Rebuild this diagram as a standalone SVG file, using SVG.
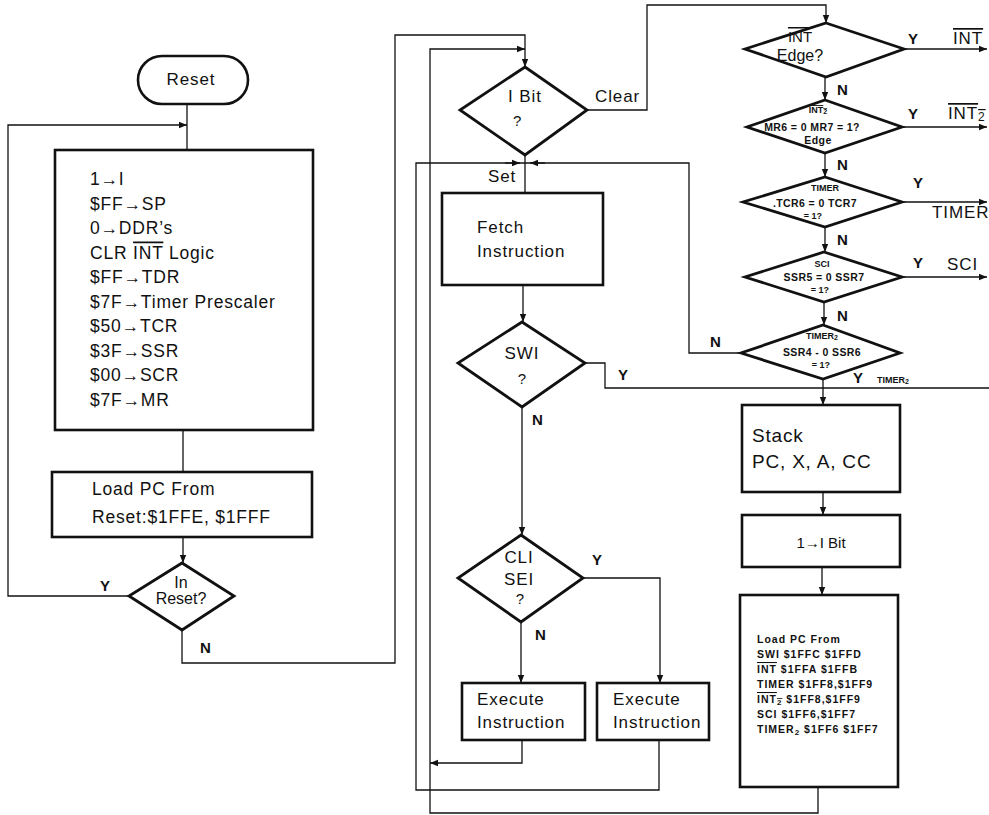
<svg xmlns="http://www.w3.org/2000/svg" width="989" height="815" viewBox="0 0 989 815">
<defs>
<style>
text{font-family:"Liberation Sans",Arial,Helvetica,sans-serif;fill:#111}
.box{fill:#fff;stroke:#111;stroke-width:2.6}
.dia{fill:#fff;stroke:#111;stroke-width:2.8;stroke-linejoin:miter}
.c{fill:none;stroke:#111;stroke-width:1.3}
.t{font-size:17.5px;letter-spacing:0.8px}
.m{font-size:17px;letter-spacing:0.9px}
.yn{font-size:15px;font-weight:bold}
.s{font-size:10.5px;font-weight:bold;letter-spacing:1px}
.d{font-size:10.5px;font-weight:bold;letter-spacing:0.4px;text-anchor:middle}
.xs{font-size:9px;font-weight:bold}
.ol{text-decoration:overline}
.mid{text-anchor:middle}
</style>
<marker id="a" viewBox="0 0 10 10" refX="10" refY="5" markerWidth="8" markerHeight="8" markerUnits="userSpaceOnUse" orient="auto"><path d="M0,1L10,5L0,9z" fill="#111"/></marker>
</defs>
<rect width="989" height="815" fill="#fff"/>

<g id="connectors">
<path class="c" d="M187,104V150"/>
<path class="c" d="M129,596H8V125H187" marker-end="url(#a)"/>
<path class="c" d="M183,430V472"/>
<path class="c" d="M183,537V563" marker-end="url(#a)"/>
<path class="c" d="M182,630V663H395V35H525V67" marker-end="url(#a)"/>
<path class="c" d="M818,787V813H430V49H525" marker-end="url(#a)"/>
<path class="c" d="M522,740V763H430" marker-end="url(#a)"/>
<path class="c" d="M659,740V790H416V163H689V353H741"/>
<path class="c" d="M505,163H520" marker-end="url(#a)"/>
<path class="c" d="M545,163H530" marker-end="url(#a)"/>
<path class="c" d="M525,155V193"/>
<path class="c" d="M587,110H647V5H826V23" marker-end="url(#a)"/>
<path class="c" d="M523,285V322" marker-end="url(#a)"/>
<path class="c" d="M585,363H605V388H989"/>
<path class="c" d="M823,379V405" marker-end="url(#a)"/>
<path class="c" d="M522,407V535" marker-end="url(#a)"/>
<path class="c" d="M521,622V683" marker-end="url(#a)"/>
<path class="c" d="M583,578H660V683" marker-end="url(#a)"/>
<path class="c" d="M904,49H987" marker-end="url(#a)"/>
<path class="c" d="M825,77V100" marker-end="url(#a)"/>
<path class="c" d="M902,127H987" marker-end="url(#a)"/>
<path class="c" d="M825,153V177" marker-end="url(#a)"/>
<path class="c" d="M902,202H987" marker-end="url(#a)"/>
<path class="c" d="M825,227V252" marker-end="url(#a)"/>
<path class="c" d="M902,277H987" marker-end="url(#a)"/>
<path class="c" d="M824,302V325" marker-end="url(#a)"/>
<path class="c" d="M823,492V515" marker-end="url(#a)"/>
<path class="c" d="M822,567V595" marker-end="url(#a)"/>
<text class="yn" x="100" y="591">Y</text>
<text class="yn" x="200" y="653">N</text>
<text class="m" x="595" y="102">Clear</text>
<text class="m" x="488" y="182">Set</text>
<text class="yn" x="618" y="380">Y</text>
<text class="yn" x="532" y="425">N</text>
<text class="yn" x="592" y="565">Y</text>
<text class="yn" x="535" y="640">N</text>
<text class="yn" x="908" y="44">Y</text>
<text class="m ol" x="953" y="44">INT</text>
<text class="yn" x="837" y="95">N</text>
<text class="yn" x="908" y="119">Y</text>
<text class="m ol" x="948" y="119">INT<tspan font-size="12" dy="2">2</tspan></text>
<text class="yn" x="837" y="170">N</text>
<text class="yn" x="913" y="188">Y</text>
<text class="m" x="932" y="218">TIMER</text>
<text class="yn" x="837" y="245">N</text>
<text class="yn" x="913" y="268">Y</text>
<text class="m" x="947" y="270">SCI</text>
<text class="yn" x="837" y="321">N</text>
<text class="yn" x="710" y="347">N</text>
<text class="yn" x="853" y="383">Y</text>
<text class="xs" x="877" y="383">TIMER<tspan font-size="7" dy="1">2</tspan></text>
</g>

<g id="reset">
<rect class="box" x="138" y="56" width="110" height="48" rx="24"/>
<text class="m mid" x="191" y="85">Reset</text>
</g>

<g id="init">
<rect class="box" x="55" y="150" width="258" height="280"/>
<text class="t" x="90" y="185">1→I</text>
<text class="t" x="90" y="209.5">$FF→SP</text>
<text class="t" x="90" y="234">0→DDR’s</text>
<text class="t" x="90" y="258.5">CLR <tspan class="ol">INT</tspan> Logic</text>
<text class="t" x="90" y="283">$FF→TDR</text>
<text class="t" x="90" y="307.5">$7F→Timer Prescaler</text>
<text class="t" x="90" y="332">$50→TCR</text>
<text class="t" x="90" y="356.5">$3F→SSR</text>
<text class="t" x="90" y="381">$00→SCR</text>
<text class="t" x="90" y="405.5">$7F→MR</text>
</g>

<g id="loadreset">
<rect class="box" x="52" y="472" width="260" height="65"/>
<text class="t" x="92" y="495">Load PC From</text>
<text class="t" x="92" y="523">Reset:$1FFE, $1FFF</text>
</g>

<g id="inreset">
<polygon class="dia" points="182,563 234,596 182,630 129,596"/>
<text class="mid" font-size="16" x="181" y="588">In</text>
<text class="mid" font-size="16" x="181" y="604">Reset?</text>
</g>

<g id="ibit">
<polygon class="dia" points="525,67 587,110 525,155 460,110"/>
<text class="m" x="508" y="102">I Bit</text>
<text font-size="15" x="513" y="126">?</text>
</g>

<g id="fetch">
<rect class="box" x="442" y="193" width="161" height="92"/>
<text class="m" x="477" y="233">Fetch</text>
<text class="m" x="477" y="257">Instruction</text>
</g>

<g id="swi">
<polygon class="dia" points="522,322 585,363 522,407 458,363"/>
<text class="m mid" x="522" y="359">SWI</text>
<text class="mid" font-size="15" x="522" y="384">?</text>
</g>

<g id="clisei">
<polygon class="dia" points="521,535 583,578 521,622 458,578"/>
<text class="m mid" x="519" y="563">CLI</text>
<text class="m mid" x="519" y="585">SEI</text>
<text class="mid" font-size="15" x="520" y="604">?</text>
</g>

<g id="exec1">
<rect class="box" x="462" y="683" width="123" height="57"/>
<text class="m" x="477" y="705">Execute</text>
<text class="m" x="477" y="728">Instruction</text>
</g>

<g id="exec2">
<rect class="box" x="597" y="683" width="112" height="57"/>
<text class="m" x="613" y="705">Execute</text>
<text class="m" x="613" y="728">Instruction</text>
</g>

<g id="intedge">
<polygon class="dia" points="826,23 904,49 826,77 745,49"/>
<text class="mid ol" font-size="15" x="800" y="42">INT</text>
<text class="mid" font-size="16" x="800" y="61">Edge?</text>
</g>

<g id="int2">
<polygon class="dia" points="825,100 902,127 825,153 747,127"/>
<text class="xs mid ol" x="818" y="113">INT<tspan font-size="7" dy="1">2</tspan></text>
<text class="d" x="812" y="131">MR6 = 0 MR7 = 1?</text>
<text class="d" x="818" y="144">Edge</text>
</g>

<g id="timer">
<polygon class="dia" points="825,177 902,202 825,227 743,202"/>
<text class="xs mid" x="825" y="191">TIMER</text>
<text class="d" x="815" y="207">.TCR6 = 0 TCR7</text>
<text class="xs mid" x="813" y="219">= 1?</text>
</g>

<g id="sci">
<polygon class="dia" points="824,252 902,277 824,302 745,277"/>
<text class="xs mid" x="822" y="267">SCI</text>
<text class="d" x="824" y="281">SSR5 = 0 SSR7</text>
<text class="xs mid" x="820" y="293">= 1?</text>
</g>

<g id="timer2">
<polygon class="dia" points="823,325 900,353 823,379 741,353"/>
<text class="xs mid" x="822" y="339">TIMER<tspan font-size="7" dy="1">2</tspan></text>
<text class="d" x="822" y="356">SSR4 - 0 SSR6</text>
<text class="xs mid" x="821" y="368">= 1?</text>
</g>

<g id="stack">
<rect class="box" x="742" y="405" width="158" height="87"/>
<text font-size="19" letter-spacing="0.8" x="752" y="442">Stack</text>
<text font-size="19" letter-spacing="0.8" x="752" y="468">PC, X, A, CC</text>
</g>

<g id="setibit">
<rect class="box" x="742" y="515" width="158" height="52"/>
<text class="mid" font-size="15" x="821" y="548">1→I Bit</text>
</g>

<g id="loadvec">
<rect class="box" x="740" y="595" width="158" height="192"/>
<text class="s" x="757" y="643">Load PC From</text>
<text class="s" x="757" y="658">SWI $1FFC $1FFD</text>
<text class="s" x="757" y="673"><tspan class="ol">INT</tspan> $1FFA $1FFB</text>
<text class="s" x="757" y="688">TIMER $1FF8,$1FF9</text>
<text class="s" x="757" y="703"><tspan class="ol">INT<tspan font-size="8" dy="2">2</tspan></tspan><tspan dy="-2"> $1FF8,$1FF9</tspan></text>
<text class="s" x="757" y="718">SCI $1FF6,$1FF7</text>
<text class="s" x="757" y="733">TIMER<tspan font-size="8" dy="2">2</tspan><tspan dy="-2"> $1FF6 $1FF7</tspan></text>
</g>
</svg>
